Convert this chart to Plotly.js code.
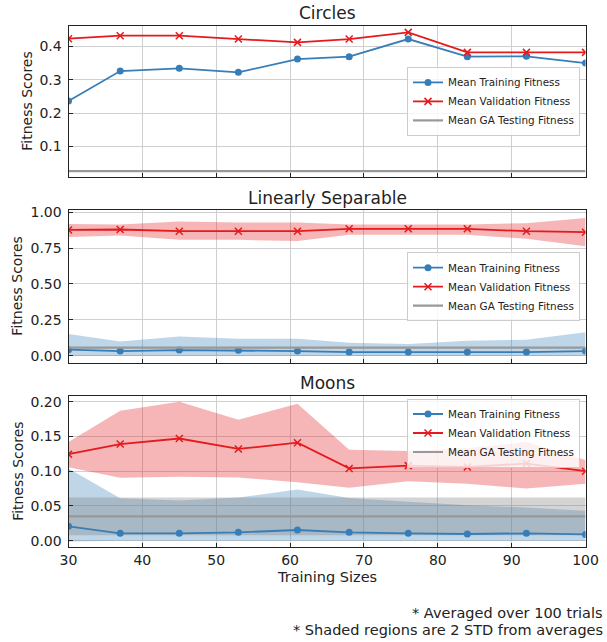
<!DOCTYPE html>
<html>
<head>
<meta charset="utf-8">
<script src="https://cdn.plot.ly/plotly-3.0.1.min.js"></script>
<style>
  html, body { margin: 0; padding: 0; background: #ffffff; }
  #chart { width: 607px; height: 642px; }
</style>
</head>
<body>
<div id="chart"></div>
<script>
// ---------- data ----------
const sizes = [30, 37, 45, 53, 61, 68, 76, 84, 92, 100];

// Circles
const circTrain = [0.236, 0.326, 0.334, 0.322, 0.362, 0.369, 0.422, 0.369, 0.370, 0.350];
const circVal   = [0.423, 0.432, 0.432, 0.422, 0.412, 0.422, 0.442, 0.382, 0.382, 0.382];
const circGA    = 0.026;

// Linearly Separable
const linTrain   = [0.042, 0.032, 0.039, 0.037, 0.032, 0.025, 0.025, 0.025, 0.025, 0.032];
const linTrainHi = [0.152, 0.099, 0.134, 0.118, 0.118, 0.090, 0.081, 0.104, 0.111, 0.164];
const linTrainLo = [-0.003, -0.001, -0.003, -0.002, -0.002, -0.003, -0.002, -0.003, -0.003, -0.003];
const linVal     = [0.877, 0.880, 0.868, 0.868, 0.868, 0.885, 0.885, 0.885, 0.868, 0.861];
const linValHi   = [0.919, 0.915, 0.935, 0.928, 0.928, 0.915, 0.915, 0.915, 0.924, 0.961];
const linValLo   = [0.827, 0.838, 0.808, 0.808, 0.799, 0.843, 0.843, 0.843, 0.815, 0.764];
const linGA      = 0.056;
const linGAHi    = 0.061;
const linGALo    = 0.051;

// Moons
const moonTrain   = [0.0207, 0.0106, 0.0106, 0.0120, 0.0154, 0.0120, 0.0106, 0.0096, 0.0106, 0.0090];
const moonTrainHi = [0.104, 0.061, 0.058, 0.062, 0.0736, 0.0615, 0.056, 0.051, 0.0476, 0.043];
const moonTrainLo = [-0.001, 0.000, 0.000, 0.000, -0.001, 0.000, 0.000, 0.000, 0.000, 0.000];
const moonVal     = [0.1245, 0.139, 0.147, 0.132, 0.141, 0.104, 0.108, 0.106, 0.111, 0.100];
const moonValHi   = [0.142, 0.187, 0.200, 0.174, 0.197, 0.131, 0.129, 0.133, 0.142, 0.116];
const moonValLo   = [0.1055, 0.0906, 0.092, 0.091, 0.084, 0.076, 0.0856, 0.082, 0.075, 0.082];
const moonGA      = 0.035;
const moonGAHi    = 0.062;
const moonGALo    = 0.008;

const panelTitles = ["Circles", "Linearly Separable", "Moons"];
const seriesNames = ["Mean Training Fitness", "Mean Validation Fitness", "Mean GA Testing Fitness"];
const footnotes = ["* Averaged over 100 trials", "* Shaded regions are 2 STD from averages"];

// ---------- style ----------
const BLUE = "#377eb8", RED = "#e41a1c", GRAY = "#999999";
const BLUE_F = "rgba(55,126,184,0.32)", RED_F = "rgba(228,26,28,0.32)", GRAY_F = "rgba(120,120,120,0.32)";
const FONT = "DejaVu Sans, sans-serif";
const TXT = "#222222";

const traces = [];
function band(xa, ya, lo, hi, fill, leg) {
  traces.push({x: sizes, y: hi, xaxis: xa, yaxis: ya, mode: "lines", line: {width: 0, color: fill},
    showlegend: false, hoverinfo: "skip", legend: leg});
  traces.push({x: sizes, y: lo, xaxis: xa, yaxis: ya, mode: "lines", line: {width: 0, color: fill},
    fill: "tonexty", fillcolor: fill, showlegend: false, hoverinfo: "skip", legend: leg});
}
function lines(xa, ya, tr, va, ga, leg) {
  traces.push({x: sizes, y: tr, xaxis: xa, yaxis: ya, mode: "lines+markers", name: seriesNames[0],
    line: {color: BLUE, width: 1.8}, marker: {symbol: "circle", size: 7, color: BLUE}, legend: leg});
  traces.push({x: sizes, y: va, xaxis: xa, yaxis: ya, mode: "lines+markers", name: seriesNames[1],
    line: {color: RED, width: 1.8}, marker: {symbol: "x-thin", size: 7, color: RED, line: {color: RED, width: 1.5}}, legend: leg});
  traces.push({x: sizes, y: sizes.map(() => ga), xaxis: xa, yaxis: ya, mode: "lines", name: seriesNames[2],
    line: {color: GRAY, width: 2.2}, legend: leg});
}

// Circles
lines("x", "y", circTrain, circVal, circGA, "legend");
// Linearly separable
band("x2", "y2", linTrainLo, linTrainHi, BLUE_F, "legend2");
band("x2", "y2", linValLo, linValHi, RED_F, "legend2");
band("x2", "y2", sizes.map(() => linGALo), sizes.map(() => linGAHi), GRAY_F, "legend2");
lines("x2", "y2", linTrain, linVal, linGA, "legend2");
// Moons
band("x3", "y3", moonTrainLo, moonTrainHi, BLUE_F, "legend3");
band("x3", "y3", moonValLo, moonValHi, RED_F, "legend3");
band("x3", "y3", sizes.map(() => moonGALo), sizes.map(() => moonGAHi), GRAY_F, "legend3");
lines("x3", "y3", moonTrain, moonVal, moonGA, "legend3");

const W = 607, H = 642;
const xDom = [68.5 / W, 585.5 / W];
const yDom = (top, bot) => [1 - bot / H, 1 - top / H];

function xax(anchor, showLabels) {
  return {domain: xDom, anchor: anchor, range: [30, 100], dtick: 10, tick0: 0,
    showticklabels: showLabels, ticks: "inside", ticklen: 4, tickcolor: "#222",
    showgrid: true, gridcolor: "#cfcfcf", gridwidth: 1,
    showline: true, linecolor: "#222", linewidth: 1, mirror: true, zeroline: false,
    tickfont: {family: FONT, size: 14, color: TXT}};
}
function yax(anchor, dom, range, dtick, fmt) {
  return {domain: dom, anchor: anchor, range: range, dtick: dtick, tick0: 0, tickformat: fmt,
    ticks: "inside", ticklen: 4, tickcolor: "#222", ticklabelstandoff: 3,
    showgrid: true, gridcolor: "#cfcfcf", gridwidth: 1,
    showline: true, linecolor: "#222", linewidth: 1, mirror: true, zeroline: false,
    tickfont: {family: FONT, size: 14, color: TXT}};
}
function leg(y, anchor) {
  return {x: 580 / W, xanchor: "right", y: 1 - y / H, yanchor: anchor, traceorder: "normal",
    bgcolor: "rgba(255,255,255,0.8)", bordercolor: "#cccccc", borderwidth: 1,
    font: {family: FONT, size: 10.4, color: TXT}, tracegroupgap: 0, itemwidth: 30};
}

const ann = [];
const cx = (68.5 + 585.5) / 2 / W;
[[panelTitles[0], 13.3], [panelTitles[1], 197.7], [panelTitles[2], 382.7]].forEach(([t, y]) => {
  ann.push({text: t, xref: "paper", yref: "paper", x: cx, y: 1 - y / H, xanchor: "center", yanchor: "middle",
    showarrow: false, font: {family: FONT, size: 17, color: TXT}});
});
[[27.5, (25.7 + 176.7) / 2], [17.3, (210 + 362.7) / 2], [17.3, (395.7 + 547.3) / 2]].forEach(([x, y]) => {
  ann.push({text: "Fitness Scores", xref: "paper", yref: "paper", x: x / W, y: 1 - y / H, xanchor: "center", yanchor: "middle",
    textangle: -90, showarrow: false, font: {family: FONT, size: 14, color: TXT}});
});
ann.push({text: "Training Sizes", xref: "paper", yref: "paper", x: cx, y: 1 - 576.7 / H, xanchor: "center", yanchor: "middle",
  showarrow: false, font: {family: FONT, size: 14.5, color: TXT}});
ann.push({text: footnotes[0], xref: "paper", yref: "paper", x: 605 / W, y: 1 - 612.7 / H, xanchor: "right", yanchor: "middle",
  showarrow: false, font: {family: FONT, size: 14.5, color: TXT}});
ann.push({text: footnotes[1], xref: "paper", yref: "paper", x: 605 / W, y: 1 - 629.5 / H, xanchor: "right", yanchor: "middle",
  showarrow: false, font: {family: FONT, size: 14.5, color: TXT}});

const layout = {
  width: W, height: H, margin: {l: 0, r: 0, t: 0, b: 0, pad: 0},
  paper_bgcolor: "#ffffff", plot_bgcolor: "#ffffff",
  font: {family: FONT, color: TXT},
  xaxis: xax("y", false), xaxis2: xax("y2", false), xaxis3: xax("y3", true),
  yaxis: yax("x", yDom(25.7, 176.7), [0.009, 0.462], 0.1, ".1f"),
  yaxis2: yax("x2", yDom(210, 362.7), [-0.049, 1.016], 0.25, ".2f"),
  yaxis3: yax("x3", yDom(395.7, 547.3), [-0.0095, 0.2086], 0.05, ".2f"),
  legend: leg(101.4, "middle"), legend2: leg(286.7, "middle"), legend3: leg(398.5, "top"),
  annotations: ann, showlegend: true
};

Plotly.newPlot("chart", traces, layout, {staticPlot: true, displayModeBar: false});
</script>
</body>
</html>
